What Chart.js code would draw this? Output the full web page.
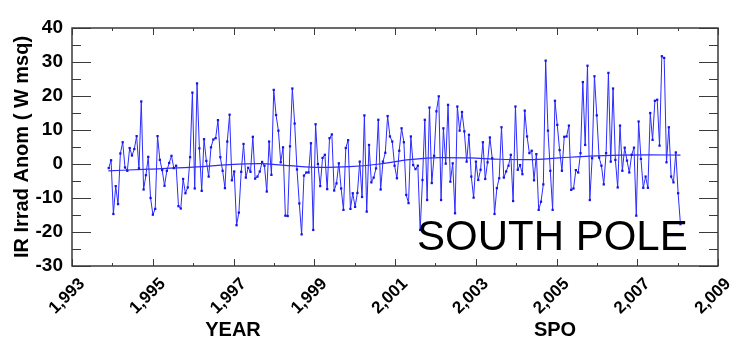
<!DOCTYPE html>
<html>
<head>
<meta charset="utf-8">
<script src="https://cdn.jsdelivr.net/npm/chart.js@4/dist/chart.umd.min.js"></script>
<style>
  html, body { margin: 0; padding: 0; background: #fff; }
  #wrap { width: 741px; height: 347px; }
</style>
</head>
<body>
<div id="wrap"><canvas id="grafica" width="741" height="347"></canvas></div>
<script>
// Serie de anomalias de radiacion IR, muestreo regular
const primerAnio = 1993.91;
const ultimoAnio = 2008.07;
const anomalias = [
  -1.2, 1.1, -14.7, -6.5, -11.8, 3.1, 6.4, -1.0, -2.0, 4.7, 2.5, 4.4, 8.2, -1.3, 18.4, -7.5, -3.3, 2.1, -10.0, -14.9,
  -13.2, 8.2, 1.2, -1.8, -6.4, -2.0, 0.3, 2.4, -1.2, -0.5, -12.4, -13.1, -4.4, -8.6, -6.9, 2.0, 21.0, -7.2, 23.7,
  4.6, -7.9, 7.3, 0.9, -3.7, 4.9, 7.2, 7.6, 12.9, 2.0, -2.0, -7.1, 6.6, 14.5, -4.8, -2.2, -18.0, -14.3, -2.3, 5.9,
  -4.0, -1.1, -2.3, 8.0, -4.3, -3.7, -2.2, 0.6, -0.5, -8.1, 6.6, -3.2, 21.8, 14.4, 9.8, 0.5, 4.9, -15.2, -15.3, 5.2,
  22.2, 11.9,
  -1.6, -11.6, -20.7, -3.4, -2.5, -2.5, 6.1, -19.4, 11.7, 0.0, -6.5, 1.8, 2.7, -7.4, 7.6, 8.7, -7.8, -5.7, 0.2, -7.2,
  -13.5, 4.7, 7.0, -13.2, -8.6, -12.6, -8.5, 0.7, -9.7, 14.3, -14.0, 5.6, -5.4, -4.0, -1.3, 13.0, -7.5, 0.7, 3.3, 14.1,
  8.1,
  6.6, -0.5, -4.2, 3.9, 10.5, 6.4, -9.1, -11.5, 8.1, -0.3, -1.5, -0.5, -19.4, -4.7, 13.0, -10.6, 16.6, -5.6, 2.4, 15.5,
  19.9, -10.6, 10.5, 0.1, 17.4, -5.2, 0.2, -14.5, 16.9, 9.8, 15.3, 9.6, 0.7, 8.6, -3.7, -9.9, 0.7, -4.7, -1.7, 6.4,
  -4.4,
  0.5, 7.8, 1.7, -14.7, -7.1, -4.2, 10.8, -4.0, -2.2, -0.5, 2.7, -10.9, 16.9, -1.7, -0.3, -3.0, 15.7, 8.1, 3.2, 3.9,
  -4.8, 2.9, -13.5, -11.1, -6.0, 30.4, 9.8, -2.0, -13.5, 18.6, 11.5, 4.1, -2.0, 8.0, 8.1, 11.3, -7.6, -7.2, -1.8, -2.5,
  3.2, 24.1, 5.6, 28.9, -10.6, 1.7, 25.8, 14.3, 1.9, -0.5, -6.0, 3.2, 26.8, 0.7, 22.2, 1.2, -6.9, 11.3, -2.0, 4.8,
  1.0, -2.5, 2.7, 4.8, -15.2, 12.5, 1.5, -7.0, -3.7, -7.0, 15.0, 7.1, 18.6, 18.9, 5.4, 31.7, 31.2, 0.5, 10.8, -3.7,
  -5.4, 3.4, -8.6, -17.7
];

// curva suavizada (tendencia)
const tendenciaAnios = [1993.90, 1994.92, 1995.91, 1996.90, 1997.64, 1998.39, 1999.13, 1999.87, 2000.62, 2001.36,
  2002.10, 2002.85, 2003.59, 2004.33, 2005.08, 2005.82, 2006.56, 2007.31, 2008.07];
const tendenciaValores = [-2.0, -1.5, -1.0, -0.2, 0.1, -0.5, -1.0, -0.8, 0.0, 1.3,
  1.9, 1.8, 1.4, 1.3, 1.8, 2.3, 2.6, 2.7, 2.6];

const ejeX = { min: 1993, max: 2009, paso: 1 };
const ejeY = { min: -30, max: 40, paso: 5 };
const tituloY = 'IR Irrad Anom ( W msq)';
const etiquetasAbajo = [{ texto: 'YEAR', x: 233 }, { texto: 'SPO', x: 555 }];
const rotulo = 'SOUTH POLE';

const paso = (ultimoAnio - primerAnio) / (anomalias.length - 1);
const puntos = anomalias.map((v, i) => ({ x: primerAnio + i * paso, y: v }));
const tendencia = tendenciaAnios.map((a, i) => ({ x: a, y: tendenciaValores[i] }));

const fuente = "'Liberation Sans', Arial, sans-serif";
const azul = '#2b2bff';

// marco, marcas hacia adentro y textos sueltos
const marco = {
  id: 'marco',
  afterDraw(chart) {
    const { ctx, chartArea: a, scales } = chart;
    ctx.save();
    ctx.strokeStyle = '#3a3a3a';
    ctx.lineWidth = 1;
    ctx.beginPath();
    for (let v = ejeY.min; v <= ejeY.max; v += ejeY.paso) {
      const y = Math.round(scales.y.getPixelForValue(v)) + 0.5;
      const largo = v % 10 === 0 ? 19 : 9;
      ctx.moveTo(a.left, y); ctx.lineTo(a.left + largo, y);
      ctx.moveTo(a.right, y); ctx.lineTo(a.right - largo, y);
    }
    for (let v = ejeX.min; v <= ejeX.max; v += ejeX.paso) {
      const x = Math.round(scales.x.getPixelForValue(v)) + 0.5;
      const largo = v % 2 === 1 ? 7 : 3;
      ctx.moveTo(x, a.top); ctx.lineTo(x, a.top + largo);
      ctx.moveTo(x, a.bottom); ctx.lineTo(x, a.bottom - largo);
    }
    ctx.stroke();
    ctx.lineWidth = 1.5;
    ctx.strokeRect(a.left, a.top, a.right - a.left, a.bottom - a.top);

    ctx.fillStyle = '#000';
    ctx.textAlign = 'center';
    ctx.textBaseline = 'alphabetic';
    ctx.font = 'bold 20px ' + fuente;
    etiquetasAbajo.forEach(e => ctx.fillText(e.texto, e.x, 336));
    ctx.textAlign = 'left';
    ctx.font = '42px ' + fuente;
    ctx.fillText(rotulo, 417, 250);
    ctx.restore();
  }
};

const config = {
  type: 'line',
  data: {
    datasets: [{
      data: puntos,
      borderColor: azul,
      borderWidth: 1,
      pointStyle: 'rect',
      pointRadius: 1.6,
      pointBackgroundColor: '#1414e6',
      pointBorderColor: '#1414e6',
      pointBorderWidth: 0,
      tension: 0
    }, {
      data: tendencia,
      borderColor: azul,
      borderWidth: 1.2,
      pointRadius: 0,
      cubicInterpolationMode: 'monotone'
    }]
  },
  plugins: [marco],
  options: {
    responsive: false,
    animation: false,
    events: [],
    layout: { padding: { top: 28, right: 23, left: 0, bottom: 0 } },
    plugins: { legend: { display: false }, tooltip: { enabled: false } },
    scales: {
      x: {
        type: 'linear',
        min: ejeX.min,
        max: ejeX.max,
        afterFit: s => { s.height = 81; },
        grid: { display: false, drawTicks: false },
        border: { display: false },
        ticks: {
          stepSize: ejeX.paso,
          autoSkip: false,
          minRotation: 45,
          maxRotation: 45,
          padding: 8,
          labelOffset: 10,
          color: '#000',
          font: { family: fuente, size: 17, weight: 'bold' },
          callback: v => (v % 2 === 1 ? v.toLocaleString('en-US') : '')
        }
      },
      y: {
        min: ejeY.min,
        max: ejeY.max,
        afterFit: s => { s.width = 72; },
        grid: { display: false, drawTicks: false },
        border: { display: false },
        ticks: {
          stepSize: ejeY.paso,
          padding: 9,
          color: '#000',
          font: { family: fuente, size: 19, weight: 'bold' },
          callback: v => (v % 10 === 0 ? v : '')
        },
        title: {
          display: true,
          text: tituloY,
          color: '#000',
          padding: { top: 10, bottom: 0 },
          font: { family: fuente, size: 20, weight: 'bold' }
        }
      }
    }
  }
};

new Chart(document.getElementById('grafica'), config);
</script>
</body>
</html>
